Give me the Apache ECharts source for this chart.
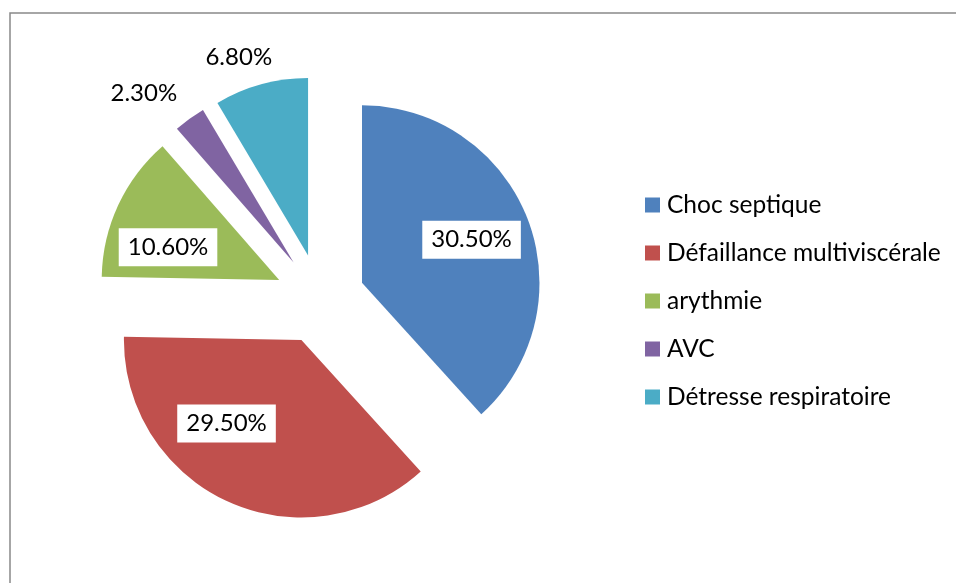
<!DOCTYPE html>
<html>
<head>
<meta charset="utf-8">
<script src="https://cdn.jsdelivr.net/npm/echarts@6/dist/echarts.min.js"></script>
<style>
html,body{margin:0;padding:0;background:#fff;}
#chart{width:956px;height:583px;}
</style>
</head>
<body>
<div id="chart"></div>
<script>
const categories = ['Choc septique', 'Défaillance multiviscérale', 'arythmie', 'AVC', 'Détresse respiratoire'];
const values = [30.5, 29.5, 10.6, 2.3, 6.8];
const colors = ['#4F81BD', '#C0504D', '#9BBB59', '#8064A2', '#4BACC6'];
const labelOffsets = [[24, -10], [-37, 0], [-28, 6], [-96, -95], [-45, -110]];
const labelBoxed = [true, true, true, false, false];

const FONT = 'Lato';
const chart = echarts.init(document.getElementById('chart'), null, {renderer: 'canvas'});

const data = categories.map((name, i) => ({
  name: name,
  value: values[i],
  selected: true,
  itemStyle: {color: colors[i]},
  label: {
    backgroundColor: labelBoxed[i] ? '#ffffff' : 'transparent',
    padding: labelBoxed[i] ? [7, 9, 7, 9] : 0
  }
}));

chart.setOption({
  animation: false,
  backgroundColor: '#ffffff',
  graphic: [{
    type: 'rect',
    shape: {x: 10, y: 13, width: 1000, height: 700},
    style: {fill: 'none', stroke: '#898989', lineWidth: 1.5},
    silent: true
  }],
  legend: {
    orient: 'vertical',
    left: 645,
    top: 192,
    padding: 0,
    itemWidth: 15,
    itemHeight: 15,
    itemGap: 22,
    icon: 'rect',
    textStyle: {fontFamily: FONT, fontSize: 24.5, color: '#000', lineHeight: 26, padding: [0, 0, 0, 2]},
    data: categories
  },
  series: [{
    type: 'pie',
    center: [320, 299],
    radius: [0, 177.5],
    startAngle: 90,
    clockwise: true,
    selectedMode: 'multiple',
    selectedOffset: 45,
    avoidLabelOverlap: false,
    label: {
      show: true,
      position: 'inside',
      formatter: p => p.value.toFixed(2) + '%',
      fontFamily: FONT,
      fontSize: 24,
      color: '#000'
    },
    labelLayout: function (params) {
      const o = labelOffsets[params.dataIndex];
      return {dx: o[0], dy: o[1]};
    },
    labelLine: {show: false},
    emphasis: {disabled: true},
    data: data
  }]
});
</script>
</body>
</html>
